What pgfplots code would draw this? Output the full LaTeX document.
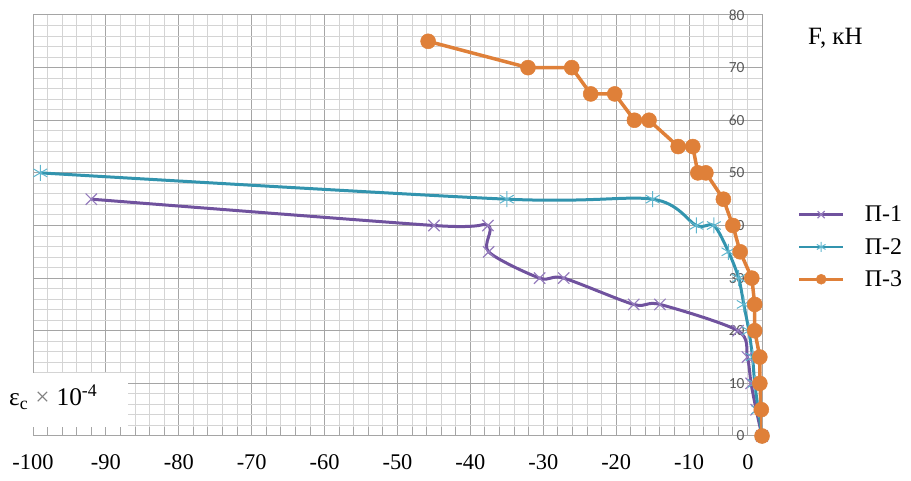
\documentclass[border=0pt]{standalone}
\usepackage{pgfplots}
\pgfplotsset{compat=1.18}
\usepackage{fontspec}
\setmainfont{Liberation Serif}
\newfontfamily\tickfont{Carlito}
\definecolor{cpurple}{RGB}{112,82,158}
\definecolor{cpurplem}{RGB}{150,125,190}
\definecolor{cteal}{RGB}{50,148,174}
\definecolor{ctealm}{RGB}{95,182,206}
\definecolor{corange}{RGB}{223,128,57}
\definecolor{majgrid}{RGB}{165,165,165}
\definecolor{mingrid}{RGB}{212,212,212}
\definecolor{ticklab}{RGB}{89,89,89}
\pgfplotstableread{
x y
-92 45
-45 40
-37.6 40
-37.5 35
-30.5 30
-27.2 30
-17.6 25
-14 25
-3.3 20
-2 15
-1.5 10
-0.8 5
0 0
}\seriesA
\pgfplotstableread{
x y
-99 50
-35 45
-15 45
-9 40
-6.6 40
-4.6 35
-3.2 30
-2.5 25
-1.8 20
-1.3 15
-1 10
-0.5 5
0 0
}\seriesB
\pgfplotstableread{
x y
-45.8 75
-32.1 70
-26.1 70
-23.5 65
-20.2 65
-17.5 60
-15.5 60
-11.5 55
-9.5 55
-8.8 50
-7.7 50
-5.3 45
-4 40
-3 35
-1.4 30
-1 25
-1 20
-0.3 15
-0.3 10
-0.1 5
0 0
}\seriesC
\begin{document}
\begin{tikzpicture}[x=1bp,y=1bp]
\useasboundingbox (0,0) rectangle (911,481);
\begin{axis}[
  at={(33bp,45bp)}, anchor=south west,
  scale only axis, width=729bp, height=421bp,
  xmin=-100, xmax=0, ymin=0, ymax=80,
  xtick={-100,-90,-80,-70,-60,-50,-40,-30,-20,-10,0},
  xticklabels={-100,-90,-80,-70,-60,-50,-40,-30,-20,-10,\makebox[0pt][r]{0\kern8.5bp}},
  ytick={0,10,20,30,40,50,60,70,80},
  minor x tick num=4, minor y tick num=4,
  grid=both,
  major grid style={draw=majgrid, line width=1bp},
  minor grid style={draw=mingrid, line width=1bp},
  axis line style={draw=majgrid, line width=1bp},
  tick align=inside, xtick pos=bottom,
  major tick length=9bp, minor tick length=9bp,
  xtick style={draw=majgrid, line width=1bp},
  ytick style={draw=none},
  yticklabel pos=right,
  xticklabel style={font=\fontsize{22.5}{26}\selectfont, text=black, yshift=-15bp},
  yticklabel style={/pgf/number format/assume math mode=true, font=\tickfont\fontsize{15.5}{18}\selectfont, text=ticklab, anchor=east, xshift=-14bp},
  legend style={at={(1.049,0.449)}, anchor=west, draw=none, fill=none,
    font=\fontsize{24}{27}\selectfont, row sep=11bp, inner sep=0pt},
  legend cell align=left,
  legend image code/.code={\draw[mark repeat=2,mark phase=2,#1, line width=2.5bp, mark size=5bp] plot coordinates {(0bp,0bp) (22bp,0bp) (44bp,0bp)}; \path (62bp,0bp);},
]
\addplot[cpurple, line width=3bp, smooth, tension=0.5, mark=x, mark size=8bp,
  mark options={draw=cpurplem, line width=1.2bp, solid}] table {\seriesA};
\addlegendentry{П-1}
\addplot[cteal, line width=3bp, smooth, tension=0.5, mark=asterisk, mark size=8bp,
  mark options={draw=ctealm, line width=1bp, solid}] table {\seriesB};
\addlegendentry{П-2}
\addplot[corange, line width=3.5bp, mark=*, mark size=7.5bp,
  mark options={fill=corange, draw=corange, line width=0.5bp}] table {\seriesC};
\addlegendentry{П-3}
\end{axis}
\fill[white] (0,54) rectangle (128,108);
\node[anchor=base west, inner sep=0pt] at (9,75.5) {\fontsize{25.5}{28}\selectfont ε\textsubscript{c}\hspace{7bp}{\color{gray}×}\hspace{7bp}10\textsuperscript{-4}};
\node[anchor=base west, inner sep=0pt] at (808,436) {\fontsize{25}{28}\selectfont F, кН};
\end{tikzpicture}
\end{document}
